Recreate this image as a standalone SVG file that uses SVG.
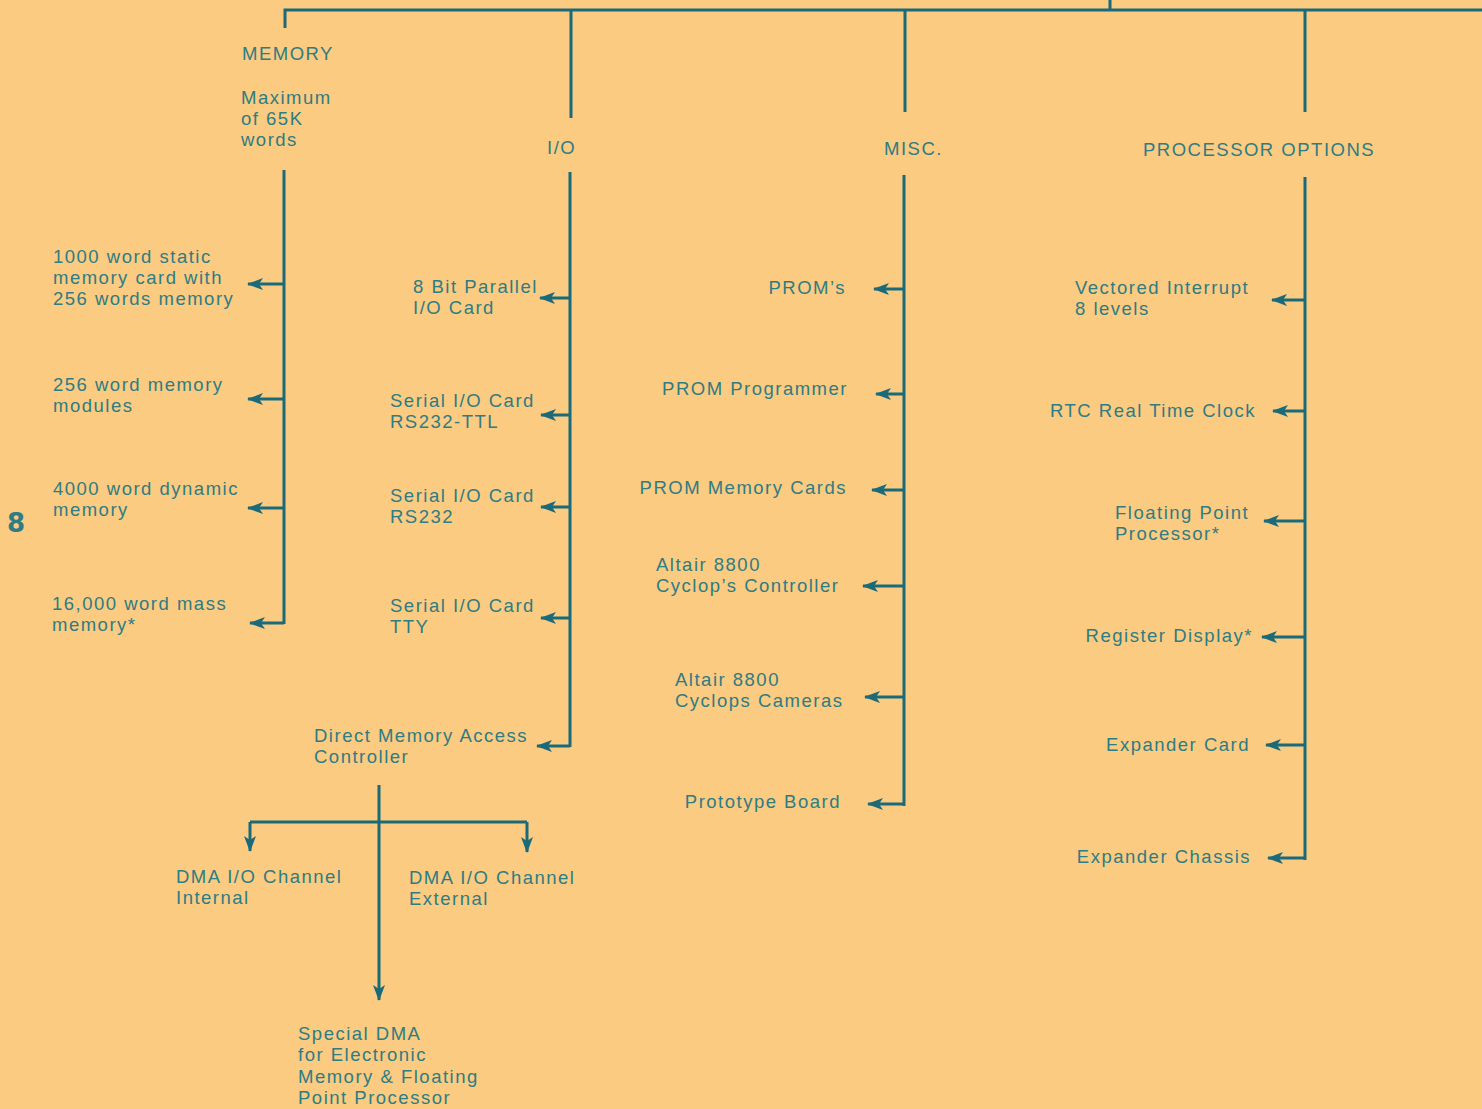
<svg xmlns="http://www.w3.org/2000/svg" width="1482" height="1109" viewBox="0 0 1482 1109">
<style>
.t{font-family:"Liberation Sans",Arial,sans-serif;font-size:18.5px;letter-spacing:1.5px;fill:#2e7c84;}
.e{text-anchor:end;}
.ln{stroke:#1b6a7a;stroke-width:3;fill:none;}
.ar{stroke:#1b6a7a;stroke-width:3;fill:none;marker-end:url(#ah);}
</style>
<defs>
<marker id="ah" viewBox="0 0 16 12" refX="15" refY="6" markerWidth="16" markerHeight="12" markerUnits="userSpaceOnUse" orient="auto">
<path d="M0,0 L16,6 L0,12 L4,6 z" fill="#1b6a7a"/>
</marker>
</defs>
<rect width="1482" height="1109" fill="#FACB80"/>
<g id="connectors">
<path class="ln" d="M285,28 V10 H1482 M1110,0 V10 M571,10 V118 M905,10 V112 M1305,10 V112"/>
<path class="ln" d="M284,170 V624 M570,172 V747 M904,175 V806 M1305,177 V860"/>
<path class="ar" d="M284,284 H248"/>
<path class="ar" d="M284,399 H248"/>
<path class="ar" d="M284,508 H248"/>
<path class="ar" d="M284,623 H250"/>
<path class="ar" d="M570,298 H540"/>
<path class="ar" d="M570,415 H541"/>
<path class="ar" d="M570,507 H541"/>
<path class="ar" d="M570,618 H541"/>
<path class="ar" d="M570,746 H537"/>
<path class="ar" d="M904,289 H874"/>
<path class="ar" d="M904,394 H876"/>
<path class="ar" d="M904,490 H872"/>
<path class="ar" d="M904,586 H863"/>
<path class="ar" d="M904,697 H865"/>
<path class="ar" d="M904,804 H868"/>
<path class="ar" d="M1305,300 H1272"/>
<path class="ar" d="M1305,411 H1273"/>
<path class="ar" d="M1305,521 H1264"/>
<path class="ar" d="M1305,637 H1262"/>
<path class="ar" d="M1305,745 H1266"/>
<path class="ar" d="M1305,858 H1268"/>
<path class="ar" d="M379,785 V1000"/>
<path class="ln" d="M250,822 H527"/>
<path class="ar" d="M250,822 V851"/>
<path class="ar" d="M527,822 V852"/>
</g>
<g id="page-number"><text x="7" y="532" style="font-family:'DejaVu Sans',sans-serif;font-size:26px;font-weight:bold;fill:#2e7c84">8</text></g>
<g id="memory"><text class="t" x="242" y="60">MEMORY</text>
<text class="t" x="241" y="104">Maximum</text><text class="t" x="241" y="125">of 65K</text><text class="t" x="241" y="146">words</text></g>
<g id="io"><text class="t" x="547" y="154">I/O</text></g>
<g id="misc"><text class="t" x="884" y="155">MISC.</text></g>
<g id="processor"><text class="t" x="1143" y="156">PROCESSOR OPTIONS</text></g>
<g id="mem1"><text class="t" x="53" y="263">1000 word static</text><text class="t" x="53" y="284">memory card with</text><text class="t" x="53" y="305">256 words memory</text></g>
<g id="mem2"><text class="t" x="53" y="391">256 word memory</text><text class="t" x="53" y="412">modules</text></g>
<g id="mem3"><text class="t" x="53" y="495">4000 word dynamic</text><text class="t" x="53" y="516">memory</text></g>
<g id="mem4"><text class="t" x="52" y="610">16,000 word mass</text><text class="t" x="52" y="631">memory*</text></g>
<g id="io1"><text class="t" x="413" y="293">8 Bit Parallel</text><text class="t" x="413" y="314">I/O Card</text></g>
<g id="io2"><text class="t" x="390" y="407">Serial I/O Card</text><text class="t" x="390" y="428">RS232-TTL</text></g>
<g id="io3"><text class="t" x="390" y="502">Serial I/O Card</text><text class="t" x="390" y="523">RS232</text></g>
<g id="io4"><text class="t" x="390" y="612">Serial I/O Card</text><text class="t" x="390" y="633">TTY</text></g>
<g id="dma"><text class="t" x="314" y="742">Direct Memory Access</text><text class="t" x="314" y="763">Controller</text></g>
<g id="dma-int"><text class="t" x="176" y="883">DMA I/O Channel</text><text class="t" x="176" y="904">Internal</text></g>
<g id="dma-ext"><text class="t" x="409" y="884">DMA I/O Channel</text><text class="t" x="409" y="905">External</text></g>
<g id="dma-special"><text class="t" x="298" y="1040">Special DMA</text><text class="t" x="298" y="1061">for Electronic</text><text class="t" x="298" y="1083">Memory &amp; Floating</text><text class="t" x="298" y="1104">Point Processor</text></g>
<g id="misc1"><text class="t e" x="846" y="294">PROM’s</text></g>
<g id="misc2"><text class="t e" x="848" y="395">PROM Programmer</text></g>
<g id="misc3"><text class="t e" x="847" y="494">PROM Memory Cards</text></g>
<g id="misc4"><text class="t" x="656" y="571">Altair 8800</text><text class="t" x="656" y="592">Cyclop’s Controller</text></g>
<g id="misc5"><text class="t" x="675" y="686">Altair 8800</text><text class="t" x="675" y="707">Cyclops Cameras</text></g>
<g id="misc6"><text class="t e" x="841" y="808">Prototype Board</text></g>
<g id="po1"><text class="t" x="1075" y="294">Vectored Interrupt</text><text class="t" x="1075" y="315">8 levels</text></g>
<g id="po2"><text class="t e" x="1256" y="417">RTC Real Time Clock</text></g>
<g id="po3"><text class="t" x="1115" y="519">Floating Point</text><text class="t" x="1115" y="540">Processor*</text></g>
<g id="po4"><text class="t e" x="1253" y="642">Register Display*</text></g>
<g id="po5"><text class="t e" x="1250" y="751">Expander Card</text></g>
<g id="po6"><text class="t e" x="1251" y="863">Expander Chassis</text></g>
</svg>
